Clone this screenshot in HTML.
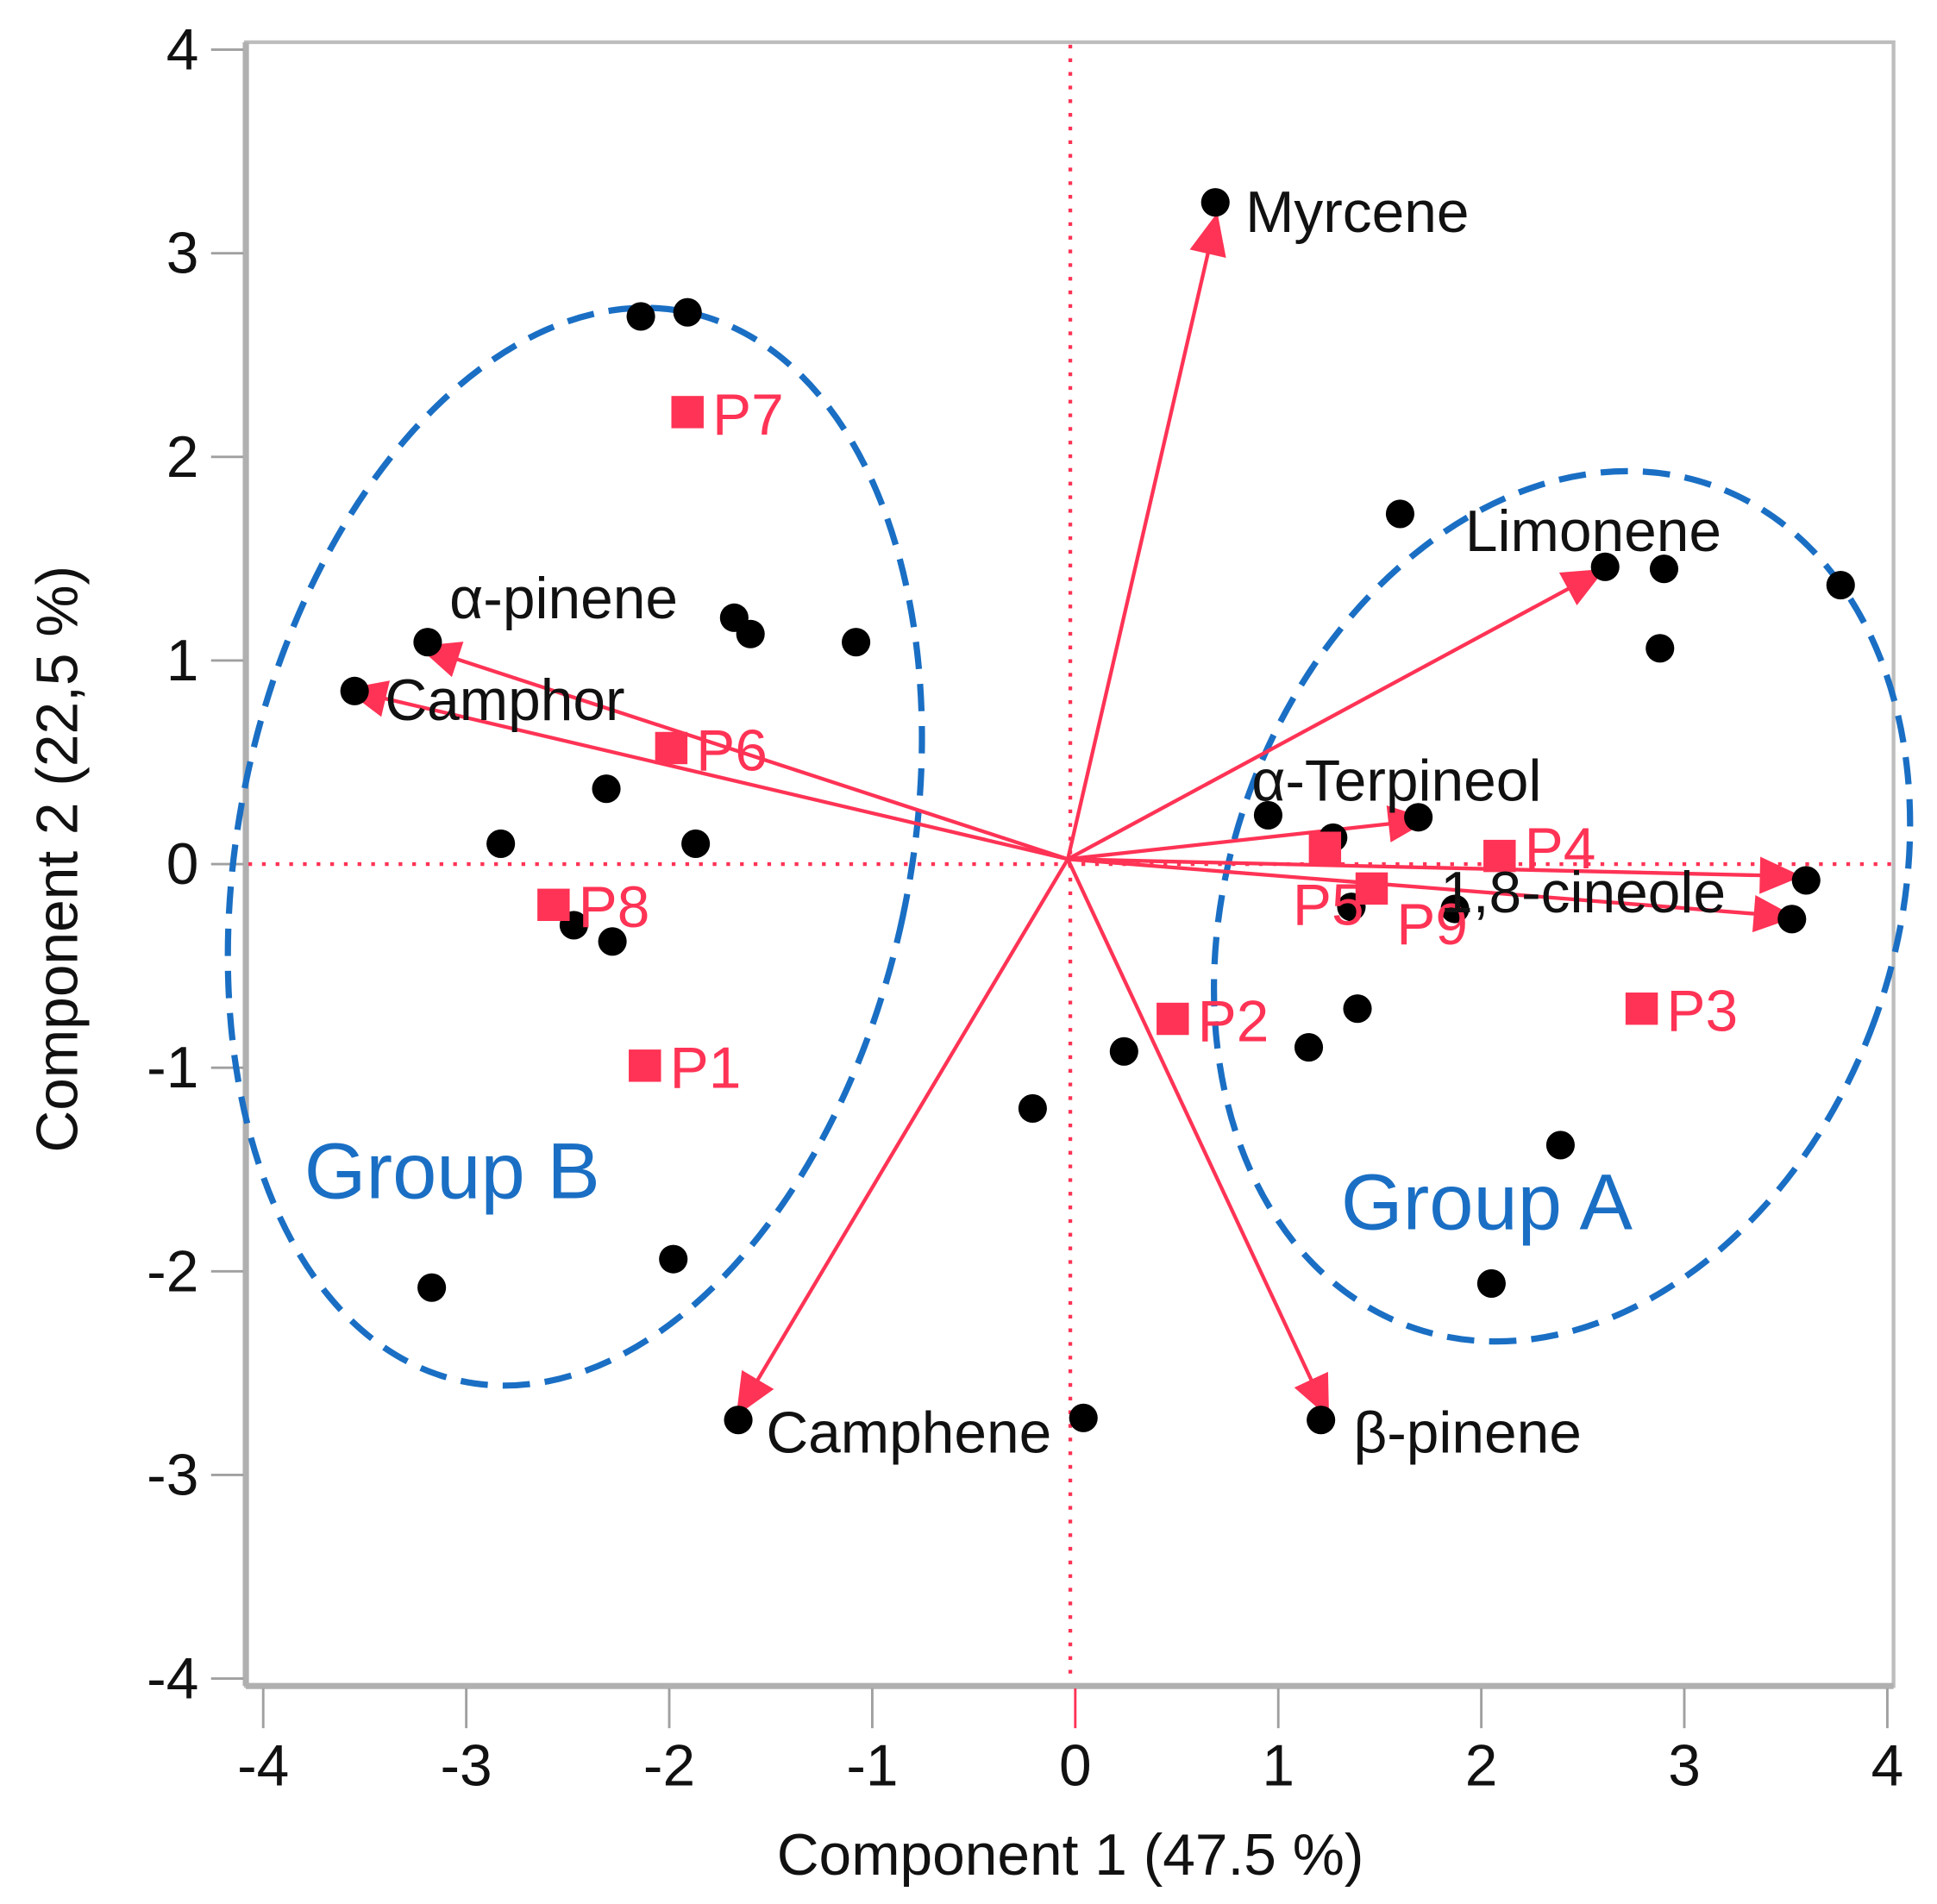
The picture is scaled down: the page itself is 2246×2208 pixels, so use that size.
<!DOCTYPE html>
<html><head><meta charset="utf-8"><style>
html,body{margin:0;padding:0;background:#fff;}
svg{display:block;}
text{font-family:"Liberation Sans",sans-serif;}
</style></head><body>
<svg id="chart" width="2246" height="2208" viewBox="0 0 1560 1533.6" xmlns="http://www.w3.org/2000/svg">
<rect x="0" y="0" width="1560" height="1534" fill="#fff"/>
<g id="frame"></g>
<g id="refs"></g>
<g id="groups"></g>
<g id="arrows"></g>
<g id="dots"></g>
<g id="squares"></g>
<g id="labels"></g>
</svg>
<script>
const ticks=[-4,-3,-2,-1,0,1,2,3,4];
const tickLabels=["-4","-3","-2","-1","0","1","2","3","4"];
const dotX=[-2.14,-1.91,0.69,1.60,2.61,2.90,3.77,2.88,-3.19,-3.55,-1.68,-1.60,-1.08,-2.31,-2.83,-1.87,0.95,1.27,1.69,3.60,3.53,1.36,1.87,-2.47,-2.28,1.39,1.15,0.24,-0.21,2.39,-1.98,2.05,-3.17,-1.66,0.04,1.21];
const dotY=[2.69,2.71,3.25,1.72,1.46,1.45,1.37,1.06,1.09,0.85,1.21,1.13,1.09,0.37,0.10,0.10,0.24,0.13,0.23,-0.08,-0.27,-0.21,-0.22,-0.30,-0.38,-0.71,-0.90,-0.92,-1.20,-1.38,-1.94,-2.06,-2.08,-2.73,-2.72,-2.73];
const sqNames=["P7","P6","P8","P1","P2","P3","P4","P5","P9"];
const sqX=[-1.91,-1.99,-2.57,-2.12,0.48,2.79,2.09,1.23,1.46];
const sqY=[2.22,0.57,-0.20,-0.99,-0.76,-0.71,0.04,0.08,-0.12];
const varNames=["Myrcene","Limonene","α-Terpineol","1,8-cineole","1,8-cineole b","α-pinene","Camphor","Camphene","β-pinene"];
const varX=[0.70,2.61,1.75,3.58,3.55,-3.24,-3.60,-1.67,1.25];
const varY=[3.20,1.45,0.22,-0.06,-0.26,1.07,0.86,-2.71,-2.72];

const NS="http://www.w3.org/2000/svg";
const xs=v=>866+v*163.5, ys=v=>696-v*164;
function mk(tag,attrs,parent,txt){const e=document.createElementNS(NS,tag);for(const k in attrs)e.setAttribute(k,attrs[k]);if(txt!==undefined)e.textContent=txt;document.getElementById(parent).appendChild(e);return e;}

let e=mk('rect',{x:198,y:34,width:1327,height:1324,fill:'none',stroke:'#bdbdbd','stroke-width':3},'frame');


mk('line',{x1:198,y1:34,x2:198,y2:1358,stroke:'#b0b0b0','stroke-width':5},'frame');
mk('line',{x1:198,y1:1358,x2:1525,y2:1358,stroke:'#b0b0b0','stroke-width':5},'frame');
ticks.forEach((t,i)=>{
  mk('line',{x1:xs(t),y1:1360,x2:xs(t),y2:1392,stroke:t===0?'#ff3355':'#a0a0a0','stroke-width':2},'frame');
  e=mk('text',{x:xs(t),y:1438,'font-size':47,'text-anchor':'middle',fill:'#111'},'frame',tickLabels[i]);
  
  
  mk('line',{x1:170,y1:ys(t),x2:196,y2:ys(t),stroke:'#a0a0a0','stroke-width':2},'frame');
  e=mk('text',{x:160,y:ys(t)+16,'font-size':47,'text-anchor':'end',fill:'#111'},'frame',tickLabels[i]);
  
  
});
e=mk('text',{x:862,y:1510,'font-size':47,'text-anchor':'middle',fill:'#111'},'frame','Component  1  (47.5 %)');


e=mk('text',{x:0,y:0,'font-size':47,'text-anchor':'middle',fill:'#111',transform:'translate(62,692) rotate(-90)'},'frame','Component  2  (22,5 %)');



e=mk('line',{x1:200,y1:ys(0),x2:1523,y2:ys(0),stroke:'#ff3355','stroke-width':3,'stroke-dasharray':'3 8'},'refs');


e=mk('line',{x1:862,y1:36,x2:862,y2:1356,stroke:'#ff3355','stroke-width':3,'stroke-dasharray':'3 8'},'refs');



e=mk('ellipse',{cx:463,cy:682,rx:270,ry:440,fill:'none',stroke:'#1a6fc4','stroke-width':5,'stroke-dasharray':'22 12',transform:'rotate(12 463 682)'},'groups');


e=mk('ellipse',{cx:1258,cy:730,rx:268,ry:360,fill:'none',stroke:'#1a6fc4','stroke-width':5,'stroke-dasharray':'22 12',transform:'rotate(20 1258 730)'},'groups');


e=mk('text',{x:245,y:965,'font-size':64,fill:'#1a6fc4','font-family':'Liberation Serif, serif'},'groups','Group B');


e=mk('text',{x:1080,y:990,'font-size':64,fill:'#1a6fc4','font-family':'Liberation Serif, serif'},'groups','Group A');



dotX.forEach((x,i)=>{
  const d=mk('circle',{cx:xs(x),cy:ys(dotY[i]),r:11.5,fill:'#000'},'dots');
  
  
});

const ox=xs(0)-6, oy=ys(0)-4;
varX.forEach((x,i)=>{
  const tx=xs(x), ty=ys(varY[i]);
  const a=mk('line',{x1:ox,y1:oy,x2:tx,y2:ty,stroke:'#ff3355','stroke-width':3},'arrows');
  
  
  const ang=Math.atan2(ty-oy,tx-ox), L=34, W=15;
  const bx=tx-L*Math.cos(ang), by=ty-L*Math.sin(ang);
  const px=-Math.sin(ang)*W, py=Math.cos(ang)*W;
  const h=mk('polygon',{points:`${tx},${ty} ${bx+px},${by+py} ${bx-px},${by-py}`,fill:'#ff3355'},'arrows');
  
  
});

sqX.forEach((x,i)=>{
  const s=mk('rect',{x:xs(x)-13,y:ys(sqY[i])-13,width:26,height:26,fill:'#ff3355'},'squares');
  
  
});
const sqLabelOff=[[20,18],[20,18],[20,18],[20,18],[20,18],[20,18],[20,10],[-26,62],[20,45]];
sqNames.forEach((n,i)=>{
  const t=mk('text',{x:xs(sqX[i])+sqLabelOff[i][0],y:ys(sqY[i])+sqLabelOff[i][1],'font-size':47,fill:'#ff3355'},'labels',n);
  
  
});

const vl=[["Myrcene",1003,187],["Limonene",1180,444],["α-Terpineol",1008,645],["1,8-cineole",1160,735],["α-pinene",362,498],["Camphor",310,580],["Camphene",617,1170],["β-pinene",1090,1170]];
vl.forEach(v=>{
  const t=mk('text',{x:v[1],y:v[2],'font-size':47,fill:'#111'},'labels',v[0]);
  
  
});
</script>
</body></html>
